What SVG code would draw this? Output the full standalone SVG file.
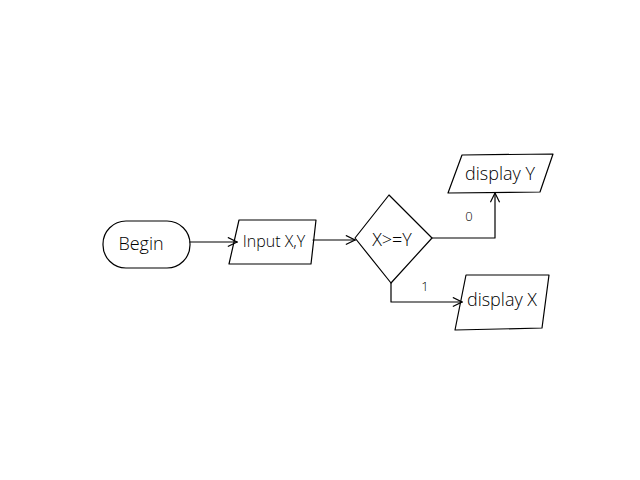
<svg xmlns="http://www.w3.org/2000/svg" width="640" height="480" viewBox="0 0 640 480">
<defs>
<style>
.s{fill:none;stroke:#000;stroke-width:1.2;stroke-linejoin:round;stroke-linecap:round}
.t{font-family:"Open Sans","Liberation Sans",sans-serif;font-weight:300;font-size:18px;fill:#000;text-anchor:middle;dominant-baseline:central}
.l{font-family:"Open Sans","Liberation Sans",sans-serif;font-weight:300;font-size:13px;fill:#000;text-anchor:middle;dominant-baseline:central}
</style>
<marker id="a" viewBox="0 0 12 12" refX="11" refY="6" markerWidth="11" markerHeight="11" markerUnits="userSpaceOnUse" orient="auto">
<path d="M1,1 L11,6 L1,11" fill="none" stroke="#000" stroke-width="1.3"/>
</marker>
</defs>
<rect width="640" height="480" fill="#fff"/>
<g id="connectors">
<path class="s" d="M190,242 L237,242" marker-end="url(#a)"/>
<path class="s" d="M313,240 L355,240" marker-end="url(#a)"/>
<path class="s" d="M432,238 L495,238 L495,193" marker-end="url(#a)"/>
<text class="l" x="469" y="216">0</text>
<path class="s" d="M391,283 L391,302 L462,302" marker-end="url(#a)"/>
<text class="l" x="425" y="286">1</text>
</g>
<g id="begin">
<rect class="s" x="103" y="221" width="87" height="47" rx="23" ry="23"/>
<text class="t" x="141" y="243">Begin</text>
</g>
<g id="input">
<path class="s" d="M239,220 L316,220 L311,264 L229,264 Z"/>
<text class="t" x="274" y="241" style="font-size:16px">Input X,Y</text>
</g>
<g id="decision">
<path class="s" d="M389,195 L432,238 L391,283 L355,238 Z"/>
<text class="t" x="392" y="239">X&gt;=Y</text>
</g>
<g id="displayY">
<path class="s" d="M462,155 L553,154 L540,192 L448,193 Z"/>
<text class="t" x="500" y="173">display Y</text>
</g>
<g id="displayX">
<path class="s" d="M466,275 L549,275 L542,328 L455,330 Z"/>
<text class="t" x="502" y="299">display X</text>
</g>
</svg>
